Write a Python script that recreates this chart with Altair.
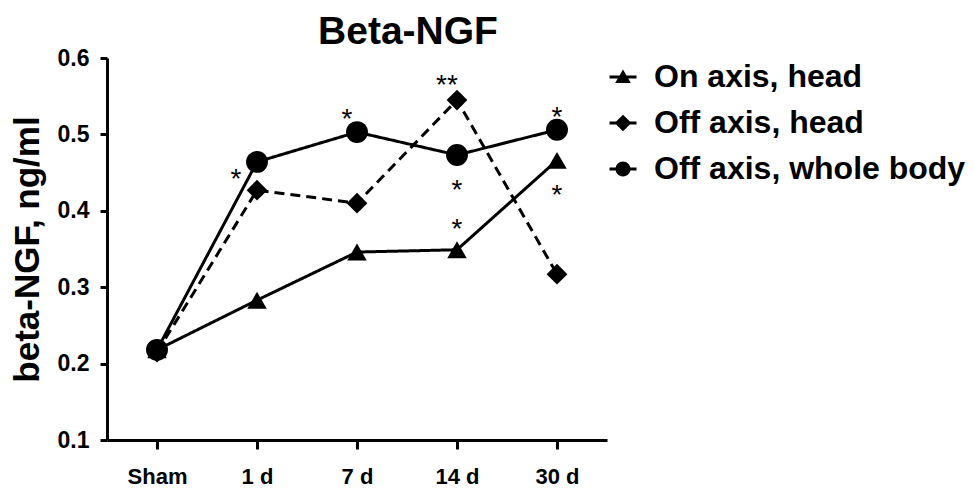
import altair as alt
import pandas as pd

times = ["Sham", "1 d", "7 d", "14 d", "30 d"]
series_names = ["On axis, head", "Off axis, head", "Off axis, whole body"]
on_head = [0.218, 0.283, 0.346, 0.349, 0.466]
off_head = [0.215, 0.427, 0.410, 0.545, 0.317]
off_body = [0.218, 0.464, 0.503, 0.473, 0.506]

ann_time = ["1 d", "7 d", "14 d", "14 d", "14 d", "30 d", "30 d"]
ann_value = [0.451, 0.529, 0.574, 0.436, 0.385, 0.532, 0.430]
ann_text = ["*", "*", "**", "*", "*", "*", "*"]
ann_group = ["left", "mid", "mid", "c", "c", "c", "c"]

rows = []
for name, vals in zip(series_names, [on_head, off_head, off_body]):
    for t, v in zip(times, vals):
        rows.append({"time": t, "value": v, "series": name})
df = pd.DataFrame(rows)
ann = pd.DataFrame({"time": ann_time, "value": ann_value, "text": ann_text, "g": ann_group})

FONT = "Liberation Sans"

x = alt.X("time:N", sort=times, scale=alt.Scale(type="point", padding=0.5),
          axis=alt.Axis(title=None, labelAngle=0, labelFontSize=22, labelFont=FONT,
                        labelFontWeight="bold", labelColor="black", domainColor="black",
                        domainWidth=3, tickColor="black", tickWidth=3, tickSize=9,
                        labelPadding=17, grid=False))
y = alt.Y("value:Q", scale=alt.Scale(domain=[0.1, 0.6], nice=False, zero=False),
          axis=alt.Axis(title="beta-NGF, ng/ml", values=[0.1, 0.2, 0.3, 0.4, 0.5, 0.6],
                        format=".1f", labelFontSize=23, labelFont=FONT, labelFontWeight="bold",
                        labelColor="black", titleFont=FONT, titleFontSize=35,
                        titleFontWeight="bold", titleColor="black", titlePadding=12,
                        domainColor="black", domainWidth=3, tickColor="black", tickWidth=3,
                        tickSize=7, labelPadding=11, grid=False))

base = alt.Chart(df)

lines = base.mark_line(color="black", strokeWidth=3).encode(
    x=x, y=y, detail="series:N",
    strokeDash=alt.StrokeDash("series:N", sort=series_names,
                              scale=alt.Scale(domain=series_names, range=[[1, 0], [10, 6], [1, 0]]),
                              legend=None),
)

points = base.mark_point(filled=True, color="black", opacity=1).encode(
    x=x, y=y,
    shape=alt.Shape("series:N", scale=alt.Scale(domain=series_names,
                                                range=["triangle-up", "diamond", "circle"]),
                    legend=None),
    size=alt.Size("series:N", scale=alt.Scale(domain=series_names, range=[380, 480, 400]),
                  legend=None),
)

legend_paths = [
    "M-1,-0.11H1V0.11H-1ZM0,-0.55L0.58,0.45L-0.58,0.45Z",
    "M-1,-0.11H1V0.11H-1ZM0,-0.62L0.62,0L0,0.62L-0.62,0Z",
    "M-1,-0.11H1V0.11H-1ZM-0.55,0A0.55,0.55 0 1,1 0.55,0A0.55,0.55 0 1,1 -0.55,0Z",
]
legend_layer = base.mark_point(filled=True, color="black", opacity=0).encode(
    x=x, y=y,
    shape=alt.Shape("series:N", sort=series_names,
                    scale=alt.Scale(domain=series_names, range=legend_paths),
                    legend=alt.Legend(title=None, orient="none", legendX=500, legendY=3,
                                      labelFontSize=32, labelFont=FONT, labelFontWeight="bold",
                                      labelColor="black", symbolSize=729,
                                      symbolFillColor="black", symbolOpacity=1, labelOffset=15,
                                      rowPadding=14, padding=0, labelLimit=400)),
)

ann_base = alt.Chart(ann)
def ann_layer(g, dx):
    return ann_base.transform_filter(alt.datum.g == g).mark_text(
        font=FONT, fontSize=28, color="black", baseline="alphabetic", dx=dx, dy=16
    ).encode(x=x, y=y, text="text:N")

chart = alt.layer(
    lines, points, legend_layer,
    ann_layer("left", -21), ann_layer("mid", -10), ann_layer("c", 0),
).resolve_scale(shape="independent").properties(
    width=500, height=382,
    title=alt.TitleParams("Beta-NGF", font=FONT, fontSize=39, fontWeight="bold",
                          color="black", anchor="middle", dx=51, offset=-5, frame="group"),
    autosize=alt.AutoSizeParams(type="none"),
    padding={"left": 99, "top": 50, "right": 359, "bottom": 49},
).configure_view(stroke=None)

chart.save("out.html", embed_options={"renderer": "svg", "actions": False})
